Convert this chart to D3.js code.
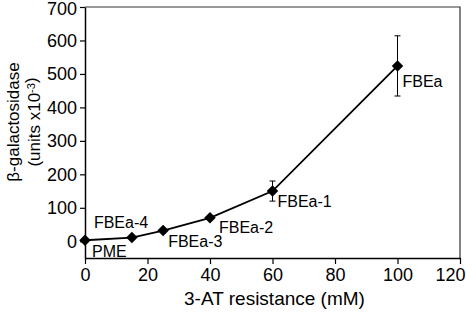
<!DOCTYPE html>
<html>
<head>
<meta charset="utf-8">
<script src="https://cdn.jsdelivr.net/npm/d3@7"></script>
<style>
  body { margin: 0; background: #fff; }
  svg text { font-family: "Liberation Sans", Arial, sans-serif; fill: #000; }
</style>
</head>
<body>
<div id="chart"></div>
<script>
// data
const strains = ["PME", "FBEa-4", "FBEa-3", "FBEa-2", "FBEa-1", "FBEa"];
const resistance = [0, 15, 25, 40, 60, 100];
const galactosidase = [3, 11, 32, 70, 150, 524];
const errors = [0, 0, 0, 0, 30, 90];
const xTicks = [0, 20, 40, 60, 80, 100, 120];
const yTicks = [0, 100, 200, 300, 400, 500, 600, 700];

// label offsets relative to each point (dx, dy)
const labelPos = [[7, 11], [-38, -15], [5, 11], [9, 10], [5, 10], [5, 15]];

const W = 466, H = 312;
const margin = { top: 7, right: 6, bottom: 54, left: 85 };

const svg = d3.select("#chart").append("svg")
  .attr("width", W)
  .attr("height", H);

const x = d3.scaleLinear().domain([0, 120]).range([margin.left, W - margin.right]);
const y = d3.scaleLinear().domain([-50, 700]).range([H - margin.bottom, margin.top]);

// frame (top + right)
svg.append("path")
  .attr("d", `M${x(0)},${y(700)}H${x(120)}V${y(-50)}`)
  .attr("fill", "none")
  .attr("stroke", "#333")
  .attr("stroke-width", 1.2);

// x axis
const xAxis = svg.append("g")
  .attr("transform", "translate(0," + y(-50) + ")")
  .call(d3.axisBottom(x).tickValues(xTicks).tickSize(6).tickPadding(4).tickSizeOuter(0));
xAxis.select(".domain").attr("stroke", "#000").attr("stroke-width", 1.5);
xAxis.selectAll(".tick line").attr("stroke", "#000").attr("stroke-width", 1.2);
xAxis.selectAll("text").style("font-size", "18px");
// last label squeezed against the right edge, like the original
xAxis.selectAll(".tick text").filter(d => d === 120).attr("dx", -10);

// y axis
const yAxis = svg.append("g")
  .attr("transform", "translate(" + x(0) + ",0)")
  .call(d3.axisLeft(y).tickValues(yTicks).tickSize(5).tickPadding(3).tickSizeOuter(0));
yAxis.select(".domain").attr("stroke", "#000").attr("stroke-width", 1.5);
yAxis.selectAll(".tick line").attr("stroke", "#000").attr("stroke-width", 1.2);
yAxis.selectAll("text").style("font-size", "18px");
yAxis.selectAll(".tick text").filter(d => d === 700).attr("y", 2);

const pts = strains.map((s, i) => ({
  name: s, x: resistance[i], y: galactosidase[i], err: errors[i], lab: labelPos[i]
}));

// error bars
const eb = svg.append("g").attr("stroke", "#000").attr("stroke-width", 1);
pts.filter(d => d.err > 0).forEach(d => {
  eb.append("line")
    .attr("x1", x(d.x)).attr("x2", x(d.x))
    .attr("y1", y(d.y - d.err)).attr("y2", y(d.y + d.err));
  [d.y - d.err, d.y + d.err].forEach(v => {
    eb.append("line")
      .attr("x1", x(d.x) - 3).attr("x2", x(d.x) + 3)
      .attr("y1", y(v)).attr("y2", y(v));
  });
});

// line
svg.append("path")
  .datum(pts)
  .attr("fill", "none")
  .attr("stroke", "#000")
  .attr("stroke-width", 1.8)
  .attr("d", d3.line().x(d => x(d.x)).y(d => y(d.y)));

// diamonds
svg.selectAll(".pt")
  .data(pts)
  .join("path")
  .attr("class", "pt")
  .attr("transform", d => `translate(${x(d.x)},${y(d.y)})`)
  .attr("d", d3.symbol(d3.symbolDiamond2, 85))
  .attr("fill", "#000");

// point labels
svg.selectAll(".lab")
  .data(pts)
  .join("text")
  .attr("class", "lab")
  .attr("x", d => x(d.x) + d.lab[0])
  .attr("y", d => y(d.y) + d.lab[1])
  .attr("dy", "0.35em")
  .style("font-size", "16px")
  .text(d => d.name);

// x title
svg.append("text")
  .attr("x", (x(0) + x(120)) / 2 + 2)
  .attr("y", 298)
  .attr("dy", "0.35em")
  .attr("text-anchor", "middle")
  .style("font-size", "19px")
  .text("3-AT resistance (mM)");

// y title, two lines
const yt = svg.append("text")
  .attr("transform", "translate(13,122) rotate(-90)")
  .attr("text-anchor", "middle")
  .style("font-size", "17px");
yt.append("tspan").attr("x", 0).attr("dy", "0.35em").text("β-galactosidase");
const l2 = svg.append("text")
  .attr("transform", "translate(34,122) rotate(-90)")
  .attr("text-anchor", "middle")
  .style("font-size", "17px");
l2.append("tspan").attr("dy", "0.35em").text("(units x10");
l2.append("tspan").attr("dy", "-0.45em").style("font-size", "11px").text("-3");
l2.append("tspan").attr("dy", "0.1em").text(")");
</script>
</body>
</html>
